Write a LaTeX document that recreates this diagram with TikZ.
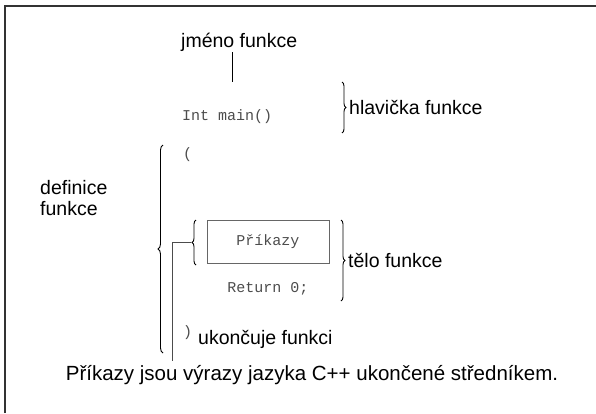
\documentclass[tikz,border=0pt]{standalone}
\usepackage{fontspec}
\setmainfont{Liberation Sans}
\setmonofont{Liberation Mono}
\usetikzlibrary{decorations.pathreplacing}

\begin{document}
\begin{tikzpicture}[x=1pt, y=-1pt,
  txt/.style={font=\fontsize{19.5}{22}\selectfont, inner sep=0pt},
  code/.style={font=\ttfamily\fontsize{15}{18}\selectfont, text=black!70, inner sep=0pt},
  curly/.style={decorate, decoration={brace, amplitude=#1}, line width=0.9pt},
  curly/.default=5pt]
  \useasboundingbox (0,0) rectangle (596,413);
  %%% frame, top and left edge only
  \draw[black!80, line width=1.2pt] (5,413) -- (5,6) -- (596,6);

  %%% header
  \node[txt, anchor=base west] (jmeno) at (181,47) {jméno funkce};
  \coordinate (jmenoTop) at (232,52);
  \coordinate (jmenoBot) at (232,82);
  \draw[line width=0.8pt] (jmenoTop) -- (jmenoBot);
  \node[code, anchor=base west] (intmain) at (182,120) {Int main()};
  \draw[curly=4pt] (342,82) -- (342,133) coordinate[midway] (hlavTip);
  \node[txt, anchor=base west] (hlavicka) at (349,114) {hlavička funkce};

  %%% body of the definition
  \draw[curly=5pt] (163,353) -- (163,145);
  \node[txt, anchor=base west, align=left] (definice) at (40,194) {definice};
  \node[txt, anchor=base west] (definice2) at (40,215) {funkce};
  \node[code, anchor=base west] (otevr) at (183,158) {(};
  \node[draw=black!60, line width=0.9pt, minimum width=122pt, minimum height=43pt,
        code] (prikazy) at (268,242) {Příkazy};
  \node[code] (return) at (268,289) {Return 0;};
  \draw[curly=4pt] (196,265) -- (196,220) coordinate[pos=0.5] (vnitrni);
  \draw[curly=4pt] (341,220) -- (341,301);
  \node[txt, anchor=base west] (telo) at (348,267) {tělo funkce};
  \node[code, anchor=base west] (zavr) at (183,336) {)};
  \node[txt, anchor=base west] (ukoncuje) at (198,344) {ukončuje funkci};

  %%% note on statements
  \node[txt, font=\fontsize{20.5}{24}\selectfont, anchor=base] (pozn) at (312,380)
    {Příkazy jsou výrazy jazyka C++ ukončené středníkem.};
  \coordinate (ohyb) at (172,242);
  \coordinate (konec) at (172,361);
  \draw[black!70, line width=0.9pt] (191,242) -- (ohyb) -- (konec);
\end{tikzpicture}
\end{document}
